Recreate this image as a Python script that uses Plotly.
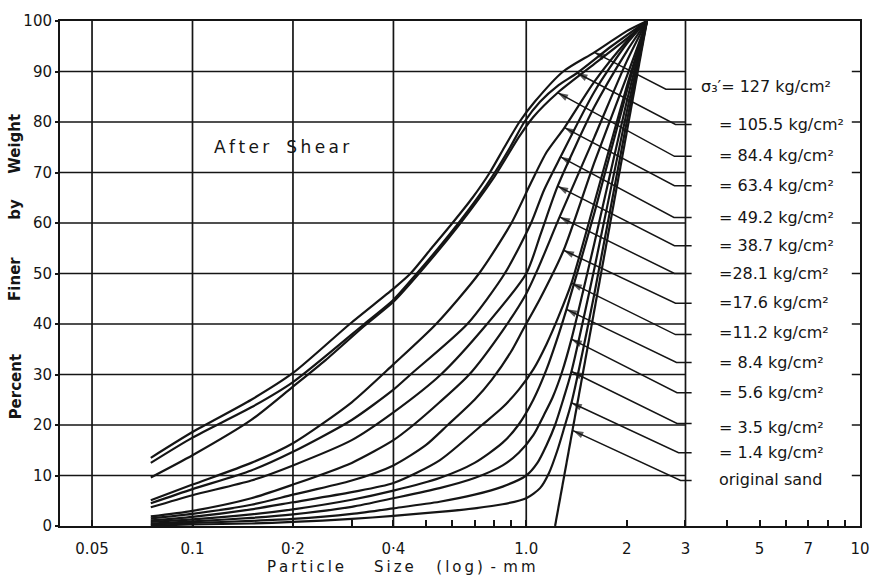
import numpy as np
import plotly.graph_objects as go

# ---------------- data ----------------
# particle size (mm) and percent finer for each after-shear curve
size_127 = [0.075, 0.1, 0.15, 0.2, 0.296, 0.4, 0.45, 0.52, 0.601, 0.69, 0.778, 0.86, 0.954, 1.06, 1.29, 1.6, 2.0, 2.3]
pct_127 = [13.5, 18.6, 25, 30.3, 40, 47, 50, 55, 60, 65, 70, 75, 80, 84, 90, 93.8, 98, 100]

size_105 = [0.075, 0.1, 0.15, 0.2, 0.327, 0.4, 0.47, 0.545, 0.627, 0.715, 0.805, 0.895, 0.987, 1.1, 1.25, 1.42, 1.8, 2.3]
pct_105 = [12.5, 17.5, 23.5, 28.5, 40, 44.8, 50, 55, 60, 65, 70, 75, 80, 84, 87.3, 89.7, 95, 100]

size_84 = [0.075, 0.1, 0.15, 0.2, 0.25, 0.327, 0.4, 0.47, 0.627, 0.805, 0.95, 1.05, 1.242, 1.6, 2.0, 2.3]
pct_84 = [9.6, 14, 21, 27.6, 32.8, 39.6, 44.4, 49.5, 59.5, 69.3, 77, 81, 85.8, 91.5, 96.5, 100]

size_63 = [0.075, 0.1, 0.15, 0.2, 0.3, 0.4, 0.537, 0.722, 0.903, 1.034, 1.15, 1.302, 1.6, 2.0, 2.3]
pct_63 = [5.1, 8.2, 12.5, 16.4, 24.5, 32, 40, 50, 60, 68, 74, 78.9, 88, 96, 100]

size_49 = [0.075, 0.1, 0.15, 0.2, 0.3, 0.4, 0.45, 0.666, 0.862, 1.034, 1.13, 1.267, 1.6, 2.0, 2.3]
pct_49 = [4.5, 7.3, 11, 14.7, 21, 27, 30, 40, 50, 60, 66.5, 73.1, 86, 95.5, 100]

size_38 = [0.075, 0.1, 0.15, 0.2, 0.3, 0.4, 0.555, 0.763, 1.0, 1.107, 1.242, 1.6, 2.0, 2.3]
pct_38 = [3.7, 6.1, 9, 12, 17, 22.5, 30, 40, 50, 58, 67.3, 83, 94, 100]

size_28 = [0.075, 0.1, 0.15, 0.2, 0.3, 0.4, 0.459, 0.55, 0.675, 0.856, 1.0, 1.085, 1.259, 1.6, 2.0, 2.3]
pct_28 = [1.9, 3.0, 5.5, 8.2, 12.5, 17, 20, 24.5, 30, 39, 46, 51, 61.2, 77, 92, 100]

size_17 = [0.075, 0.1, 0.15, 0.2, 0.3, 0.4, 0.5, 0.582, 0.7, 0.789, 0.9, 0.98, 1.1, 1.294, 1.6, 2.0, 2.3]
pct_17 = [1.5, 2.4, 4.2, 6.2, 9, 12, 16, 20, 25, 29, 34.5, 39, 45, 54.6, 72, 89, 100]

size_11 = [0.075, 0.1, 0.15, 0.2, 0.3, 0.4, 0.55, 0.737, 0.85, 0.95, 1.05, 1.15, 1.25, 1.366, 1.6, 2.0, 2.3]
pct_11 = [1.1, 1.8, 3.3, 4.7, 6.7, 8.5, 13, 20, 23.5, 27, 31, 36, 41.5, 48.1, 64, 87, 100]

size_8 = [0.075, 0.1, 0.15, 0.2, 0.3, 0.4, 0.55, 0.7, 0.85, 0.947, 1.05, 1.15, 1.23, 1.32, 1.6, 2.0, 2.3]
pct_8 = [0.8, 1.3, 2.3, 3.3, 5.2, 7, 9.5, 12.5, 16.5, 20, 25, 31, 36.5, 42.9, 62, 86, 100]

size_5 = [0.075, 0.1, 0.15, 0.2, 0.3, 0.4, 0.55, 0.7, 0.85, 0.95, 1.05, 1.13, 1.2, 1.28, 1.366, 1.6, 2.0, 2.3]
pct_5 = [0.5, 0.9, 1.6, 2.3, 3.8, 5.5, 7.5, 9.5, 12, 14.5, 18, 22, 25.5, 30.5, 37, 56, 84, 100]

size_3 = [0.075, 0.1, 0.15, 0.2, 0.3, 0.4, 0.55, 0.7, 0.85, 1.0, 1.08, 1.15, 1.22, 1.29, 1.366, 1.6, 2.0, 2.3]
pct_3 = [0.3, 0.6, 1.0, 1.4, 2.4, 3.5, 4.8, 6.2, 7.8, 10, 12.5, 16, 20, 25, 30.6, 51, 82, 100]

size_1 = [0.075, 0.1, 0.15, 0.2, 0.3, 0.4, 0.55, 0.7, 0.85, 1.0, 1.1, 1.17, 1.24, 1.3, 1.366, 1.6, 2.0, 2.3]
pct_1 = [0.1, 0.3, 0.5, 0.8, 1.4, 2, 2.8, 3.5, 4.3, 5.5, 7.5, 10.5, 15, 19.5, 24.4, 46, 80, 100]

orig_size = [1.22, 1.62, 2.3]
orig_pct = [0, 45, 100]

curves = [(size_127, pct_127), (size_105, pct_105), (size_84, pct_84), (size_63, pct_63),
          (size_49, pct_49), (size_38, pct_38), (size_28, pct_28), (size_17, pct_17),
          (size_11, pct_11), (size_8, pct_8), (size_5, pct_5), (size_3, pct_3), (size_1, pct_1)]

# legend labels (top to bottom) and leader-line readings
label_text = ["σ₃′= 127 kg/cm²", "= 105.5 kg/cm²", "= 84.4 kg/cm²",
              "= 63.4 kg/cm²", "= 49.2 kg/cm²", "= 38.7 kg/cm²",
              "=28.1 kg/cm²", "=17.6 kg/cm²", "=11.2 kg/cm²",
              "= 8.4 kg/cm²", "= 5.6 kg/cm²", "= 3.5 kg/cm²",
              "= 1.4 kg/cm²", "original sand"]
arrow_size = [1.6, 1.42, 1.242, 1.302, 1.267, 1.242, 1.259, 1.294, 1.366, 1.32, 1.366, 1.366, 1.366, 1.38]
arrow_pct = [93.8, 89.7, 85.8, 78.9, 73.1, 67.3, 61.2, 54.6, 48.1, 42.9, 37.0, 30.6, 24.4, 18.9]
knee_size = [2.62, 2.8, 2.78, 2.78, 2.77, 2.78, 2.78, 2.8, 2.8, 2.82, 2.83, 2.83, 2.86, 2.9]
stub_pct = [86.5, 79.5, 73.2, 67.4, 61.1, 55.5, 50.0, 44.1, 37.9, 32.4, 26.4, 20.3, 14.5, 9.0]
label_pct = [87.1, 79.5, 73.4, 67.4, 61.1, 55.5, 50.0, 44.3, 38.3, 32.4, 26.4, 19.6, 14.5, 9.2]

x_ticks = [0.05, 0.1, 0.2, 0.4, 1.0, 2, 3, 5, 7, 10]
x_tick_text = ["0.05", "0.1", "0·2", "0·4", "1.0", "2", "3", "5", "7", "10"]
x_minor = [0.3, 0.5, 0.6, 0.7, 0.8, 0.9, 4, 6, 8, 9]
y_ticks = list(range(0, 101, 10))
v_grid = [0.05, 0.1, 0.2, 0.4, 1.0, 3.0]
h_grid = list(range(10, 100, 10))

# ---------------- figure ----------------
INK = "#151515"
FONT = "DejaVu Sans"
TS = "\u2009"   # thin space: wide hand lettering
EM = "\u2003"   # em space: word gaps
EN = "\u2002"


def spaced(word):
    return TS.join(word)


fig = go.Figure()

gx, gy = [], []
for v in h_grid:
    gx += [0.03, 3.0, None]
    gy += [v, v, None]
for v in v_grid:
    gx += [v, v, None]
    gy += [0, 100, None]
fig.add_trace(go.Scatter(x=gx, y=gy, mode="lines", line=dict(color=INK, width=1.7),
                         hoverinfo="skip", showlegend=False))

# small ticks on the right border
rx, ry = [], []
for v in h_grid:
    rx += [9.45, 10.5, None]
    ry += [v, v, None]
fig.add_trace(go.Scatter(x=rx, y=ry, mode="lines", line=dict(color=INK, width=1.5),
                         hoverinfo="skip", showlegend=False))

for sx, py in curves:
    fig.add_trace(go.Scatter(x=sx, y=py, mode="lines",
                             line=dict(color=INK, width=2.2, shape="spline", smoothing=0.7),
                             hoverinfo="skip", showlegend=False))
fig.add_trace(go.Scatter(x=orig_size, y=orig_pct, mode="lines", line=dict(color=INK, width=2.2),
                         hoverinfo="skip", showlegend=False))

# leader lines: horizontal stub + diagonal ending in an arrowhead on the curve
for tx, ty, k, s in zip(arrow_size, arrow_pct, knee_size, stub_pct):
    fig.add_trace(go.Scatter(x=[3.13, k, tx], y=[s, s, ty], mode="lines+markers",
                             line=dict(color=INK, width=1.5),
                             marker=dict(symbol=["circle", "circle", "arrow"], size=[0, 0, 11],
                                         angleref="previous", color=INK,
                                         line=dict(width=0)),
                             hoverinfo="skip", showlegend=False))

ann = []
for i, (t, ly) in enumerate(zip(label_text, label_pct)):
    lx = 3.3 if i == 0 else 3.72
    ann.append(dict(x=np.log10(lx), y=ly, xref="x", yref="y", text=t, showarrow=False,
                    xanchor="left", yanchor="middle", font=dict(family=FONT, size=16, color=INK)))

ann.append(dict(x=np.log10(0.185), y=75, xref="x", yref="y",
                text=spaced("After") + EM + spaced("Shear"),
                showarrow=False, font=dict(family=FONT, size=17, color=INK)))

# axis titles
for word, yc in [("Percent", 385), ("Finer", 275), ("by", 205), ("Weight", 138)]:
    ann.append(dict(x=(15 - 60) / 808, y=(526 - yc) / 512, xref="paper", yref="paper",
                    xanchor="center", yanchor="middle",
                    text="<b>" + word + "</b>", textangle=-90, showarrow=False,
                    font=dict(family=FONT, size=15, color=INK)))
xtitle = (spaced("Particle") + EM + EM + spaced("Size") + EM + EN
          + spaced("(log)") + EN + "-" + EN + spaced("mm"))
ann.append(dict(x=(405 - 60) / 808, y=-(568 - 526) / 512, xref="paper", yref="paper",
                text=xtitle, showarrow=False,
                xanchor="center", yanchor="middle", font=dict(family=FONT, size=15, color=INK)))

fig.update_layout(
    width=882, height=579,
    margin=dict(l=60, r=14, t=14, b=53),
    paper_bgcolor="white", plot_bgcolor="white",
    annotations=ann,
    showlegend=False,
    xaxis=dict(type="log", range=[-1.397, 1.0], tickvals=x_ticks, ticktext=x_tick_text,
               ticks="inside", ticklen=6, tickwidth=1.5, tickcolor=INK,
               showgrid=False, zeroline=False, showline=True, linewidth=2, linecolor=INK,
               mirror=True, ticklabelstandoff=8,
               tickfont=dict(family=FONT, size=15, color=INK),
               minor=dict(tickvals=x_minor, ticks="inside", ticklen=6, tickwidth=1.5,
                          tickcolor=INK, showgrid=False)),
    yaxis=dict(range=[0, 100], tickvals=y_ticks, ticks="outside", ticklen=3, tickwidth=1.5,
               tickcolor=INK, showgrid=False, zeroline=False, showline=True, linewidth=2,
               linecolor=INK, mirror=True, ticklabelstandoff=0,
               tickfont=dict(family=FONT, size=15, color=INK)),
)

fig.write_html("out.html")
